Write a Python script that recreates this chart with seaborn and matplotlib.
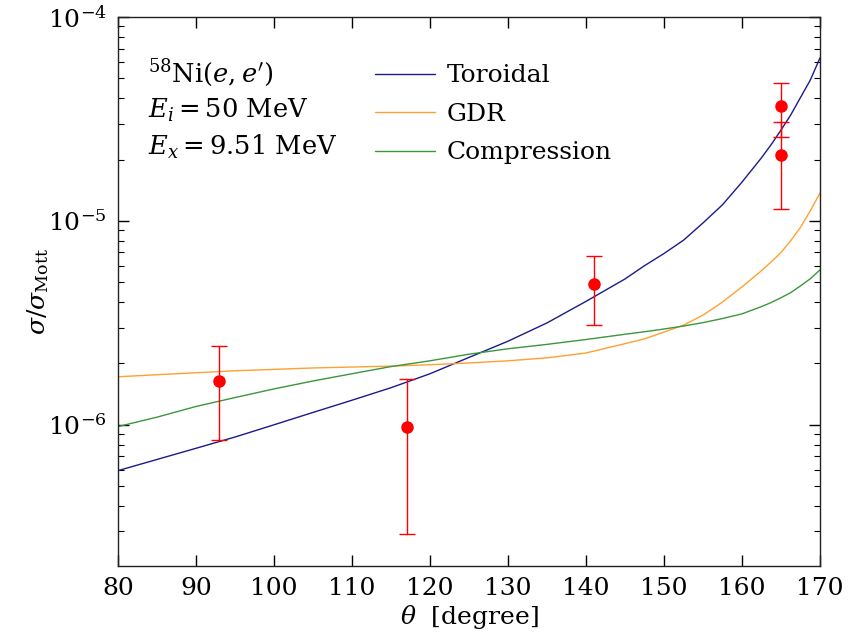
import numpy as np
import pandas as pd
import matplotlib
matplotlib.use("Agg")
import matplotlib.pyplot as plt
import seaborn as sns

# ---- data ----
theta = [80, 85, 90, 95, 100, 105, 110, 115, 120, 125, 130, 135, 140, 145,
         147.5, 150, 152.5, 155, 157.5, 160, 162.5, 163.75, 165, 166.25, 167.5,
         168.75, 170]
toroidal = [5.96e-7, 6.76e-7, 7.67e-7, 8.71e-7, 1.00e-6, 1.15e-6, 1.32e-6, 1.52e-6,
            1.78e-6, 2.14e-6, 2.57e-6, 3.16e-6, 4.03e-6, 5.19e-6,
            6.03e-6, 6.92e-6, 8.04e-6, 9.77e-6, 1.20e-5, 1.55e-5, 2.04e-5, 2.37e-5,
            2.79e-5, 3.31e-5, 4.03e-5, 4.90e-5, 6.30e-5]
gdr = [1.72e-6, 1.76e-6, 1.80e-6, 1.84e-6, 1.87e-6, 1.90e-6, 1.92e-6, 1.94e-6,
       1.97e-6, 2.01e-6, 2.06e-6, 2.13e-6, 2.25e-6, 2.50e-6,
       2.64e-6, 2.85e-6, 3.08e-6, 3.45e-6, 4.00e-6, 4.75e-6, 5.70e-6, 6.30e-6,
       7.00e-6, 8.00e-6, 9.30e-6, 1.12e-5, 1.37e-5]
compression = [9.8e-7, 1.09e-6, 1.23e-6, 1.36e-6, 1.50e-6, 1.64e-6, 1.78e-6, 1.93e-6,
               2.06e-6, 2.22e-6, 2.36e-6, 2.48e-6, 2.62e-6, 2.78e-6,
               2.86e-6, 2.95e-6, 3.05e-6, 3.17e-6, 3.32e-6, 3.50e-6, 3.80e-6, 3.98e-6,
               4.20e-6, 4.45e-6, 4.80e-6, 5.20e-6, 5.75e-6]
series_names = ["Toroidal", "GDR", "Compression"]
series_colors = ["#1a1a8c", "#ffa030", "#3c963c"]

exp_theta = [93, 117, 141, 165, 165]
exp_sigma = [1.64e-6, 9.8e-7, 4.91e-6, 3.65e-5, 2.10e-5]
exp_err = [0.80e-6, 0.69e-6, 1.84e-6, 1.07e-5, 0.96e-5]

xticks = [80, 90, 100, 110, 120, 130, 140, 150, 160, 170]

# ---- build table ----
df = pd.concat([
    pd.DataFrame({"theta": theta, "sigma": vals, "model": name})
    for name, vals in zip(series_names, [toroidal, gdr, compression])
], ignore_index=True)

sns.set_style("ticks")
plt.rcParams["font.family"] = ["DejaVu Serif", "DejaVu Sans"]
plt.rcParams["mathtext.fontset"] = "dejavuserif"
for k in ["text.color", "axes.labelcolor", "xtick.color", "ytick.color"]:
    plt.rcParams[k] = "black"

fig = plt.figure(figsize=(8.59, 6.34), dpi=100)
ax = fig.add_axes([118 / 859, 1 - 566 / 634, (820 - 118) / 859, (566 - 17) / 634])

sns.lineplot(data=df, x="theta", y="sigma", hue="model", hue_order=series_names,
             palette=series_colors, estimator=None, sort=False, linewidth=1.0,
             legend=False, ax=ax)

ax.errorbar(exp_theta, exp_sigma, yerr=exp_err, fmt="o", color="red",
            markersize=8, ecolor="red", elinewidth=1, capsize=5.5, capthick=1,
            zorder=5)

ax.set_yscale("log")
ax.set_xlim(80, 170)
ax.set_ylim(2.03e-7, 1e-4)
ax.set_xticks(xticks)
ax.set_xticklabels([str(t) for t in xticks])
ax.minorticks_off()
ax.yaxis.set_minor_locator(matplotlib.ticker.LogLocator(base=10, subs=np.arange(2, 10)))
ax.yaxis.set_minor_formatter(matplotlib.ticker.NullFormatter())

ax.tick_params(axis="both", which="major", direction="in", length=8, width=1,
               labelsize=18, top=True, right=True, pad=8)
ax.tick_params(axis="y", which="minor", direction="in", length=4, width=0.8,
               right=True, left=True)
for s in ax.spines.values():
    s.set_linewidth(1.0)
    s.set_color("#222222")

ax.set_xlabel(r"$\theta$  [degree]", fontsize=18, labelpad=2)
ax.set_ylabel(r"$\sigma/\sigma_{\rm Mott}$", fontsize=18, labelpad=-2)

lines = ax.get_lines()[:3]
ax.legend(lines, series_names, frameon=False, fontsize=18,
          loc="upper left", bbox_to_anchor=(357 / 859, 1 - 47 / 634),
          bbox_transform=fig.transFigure, handlelength=2.4, handletextpad=0.48,
          labelspacing=0.62, borderpad=0.2)

tx = 148 / 859
ty = [73, 110, 147]
texts = [r"$^{58}$Ni$(e,e^{\prime})$", r"$E_i = 50$ MeV", r"$E_x = 9.51$ MeV"]
for t, y in zip(texts, ty):
    fig.text(tx, 1 - y / 634, t, fontsize=18.5, ha="left", va="center")

fig.savefig("out.png", dpi=100)
